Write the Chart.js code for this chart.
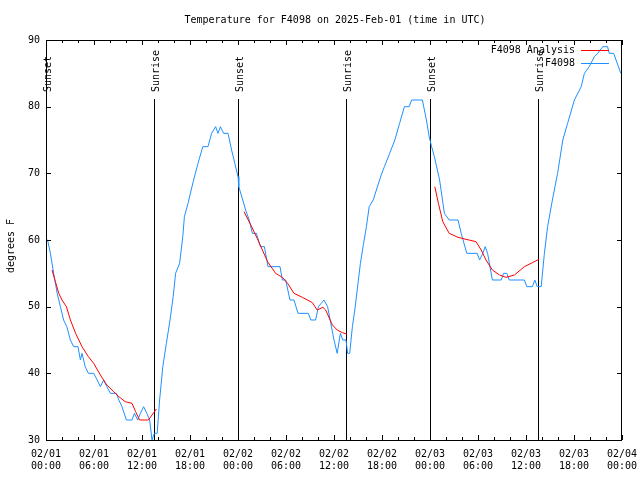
<!DOCTYPE html>
<html><head><meta charset="utf-8">
<script src="https://cdn.jsdelivr.net/npm/chart.js@4/dist/chart.umd.min.js"></script>
<style>html,body{margin:0;padding:0;background:#fff}canvas{display:block}</style>
</head><body>
<canvas id="c" width="640" height="480"></canvas>
<script>
const titleText = 'Temperature for F4098 on 2025-Feb-01 (time in UTC)';
const yAxisLabel = 'degrees F';
const seriesNames = ['F4098 Analysis', 'F4098'];
const tickDates = ['02/01','02/01','02/01','02/01','02/02','02/02','02/02','02/02','02/03','02/03','02/03','02/03','02/04'];
const tickTimes = ['00:00','06:00','12:00','18:00','00:00','06:00','12:00','18:00','00:00','06:00','12:00','18:00','00:00'];
const eventHours = [0, 13.5, 24, 37.5, 48, 61.5];
const eventLabels = ['Sunset','Sunrise','Sunset','Sunrise','Sunset','Sunrise'];

// hours since 02/01 00:00 UTC
const obsHours = [0.0,0.2,0.55,0.96,1.4,1.8,2.2,2.6,3.05,3.46,4.0,4.3,4.5,4.9,5.3,5.96,6.4,6.8,7.2,7.6,8.05,8.8,9.1,9.5,10.05,10.75,11.05,11.46,11.8,12.2,12.6,12.96,13.25,13.55,13.9,14.2,14.6,15.05,15.5,15.9,16.2,16.7,17.1,17.3,17.75,18.4,19.0,19.6,20.25,20.7,21.2,21.5,21.8,22.2,22.75,23.2,23.6,24.0,24.1,24.96,25.4,25.8,26.3,26.8,27.3,27.75,29.25,29.55,29.96,30.5,31.0,31.5,32.8,33.1,33.7,34.05,34.4,34.75,35.2,35.6,36.0,36.4,36.8,37.1,37.5,37.7,37.96,38.3,38.6,39.0,39.3,39.7,40.05,40.4,40.9,41.3,41.9,42.3,42.96,43.6,44.2,44.8,45.4,45.7,47.05,47.55,47.9,48.2,48.55,49.2,49.8,50.4,51.5,51.9,52.6,53.9,54.2,54.6,54.9,55.2,55.8,56.9,57.2,57.6,57.9,59.8,60.1,60.8,61.1,61.4,61.9,62.3,62.7,63.3,63.95,64.6,65.2,66.05,66.9,67.3,67.9,68.55,68.96,69.6,70.2,70.4,70.96,71.7,71.85];
const obsTemps = [60,60,58,55,52,50,48,47,45,44,44,42,43,41,40,40,39,38,39,38,37,37,36,35,33,33,34,33,34,35,34,33,30,31,31,36,41,44.5,48,51.5,55,56.5,60.5,63.5,65.5,68.75,71.5,74,74,76,77,76,77,76,76,73.5,71.5,69.5,68,64.5,63,61,61,59,59,56,56,54,54,51,51,49,49,48,48,50,50.5,51,50,47.5,45,43,46,45,45,43,43,47,49.5,53.5,56.5,59.5,62,65,66,67.5,69.75,71,73,75,77.5,80,80,81,81,78,75.5,74,72.5,69,64,63,63,61,58,58,57,58,59,58,54,54,55,55,54,54,53,53,54,53,53,58,62,66,70,75,77.5,81,83,85,86,87.5,88,89,89,88,88,85.5,85];

const anaHours = [0.75,1.17,1.6,2.0,2.55,3.05,3.7,4.5,5.3,5.96,6.8,7.6,8.46,9.1,9.9,10.75,11.2,11.7,12.8,13.25,13.8,
  19,
  24.75,25.6,26.4,27.05,27.7,28.7,29.55,30.2,31.0,32.05,33.3,33.9,34.6,34.96,35.8,36.4,37.05,37.6,
  43,
  48.6,49.05,49.6,50.4,51.5,52.5,53.75,54.4,55.0,55.8,56.7,57.5,58.55,59.8,60.8,61.6];
const anaTemps = [55.5,53.75,52,51,50,48,46,44,42.5,41.5,39.75,38.25,37.25,36.5,35.75,35.5,34.25,33,33,33.75,34.65,
  null,
  64.25,62.25,60.25,58.5,56.75,55,54.4,53.5,52,51.4,50.6,49.5,49.9,49.5,47.25,46.5,46.1,45.9,
  null,
  68,65.5,62.75,61,60.4,60.1,59.75,58.5,57,55.5,54.75,54.4,54.75,56,56.6,57.1];

const FONTFAM = '"DejaVu Sans Mono", "Liberation Mono", monospace';
const FONT = '10px ' + FONTFAM;
const RED = '#ff0000';
const BLUE = '#1e90ff';

const toPts = (xs, ys) => xs.map((h, i) => ({x: h, y: ys[i]}));

const deco = {
  id: 'deco',
  beforeDatasetsDraw(chart) {
    const {ctx, chartArea: a, scales: {x}} = chart;
    ctx.save();
    ctx.strokeStyle = '#000'; ctx.lineWidth = 1;
    ctx.font = FONT; ctx.fillStyle = '#000';
    eventHours.forEach((h, i) => {
      const px = Math.round(x.getPixelForValue(h)) + 0.5;
      ctx.beginPath(); ctx.moveTo(px, a.top + 59); ctx.lineTo(px, a.bottom); ctx.stroke();
      ctx.save();
      ctx.translate(px + 1.5, a.top + 52);
      ctx.rotate(-Math.PI / 2);
      ctx.textAlign = 'left'; ctx.textBaseline = 'middle';
      ctx.fillText(eventLabels[i], 0, 0);
      ctx.restore();
    });
    ctx.restore();
  },
  afterDatasetsDraw(chart) {
    const {ctx, chartArea: a, scales: {x, y}} = chart;
    ctx.save();
    ctx.strokeStyle = '#000'; ctx.lineWidth = 1;
    ctx.strokeRect(a.left + 0.5, a.top + 0.5, a.right - a.left - 1, a.bottom - a.top);
    ctx.beginPath();
    for (let h = 0; h <= 72; h += 2) {
      const px = Math.round(x.getPixelForValue(h)) + 0.5;
      const len = (h % 6 === 0) ? 5 : 3;
      ctx.moveTo(px, a.bottom); ctx.lineTo(px, a.bottom - len);
      ctx.moveTo(px, a.top); ctx.lineTo(px, a.top + len);
    }
    for (let v = 30; v <= 90; v += 10) {
      const py = Math.round(y.getPixelForValue(v)) + 0.5;
      ctx.moveTo(a.left, py); ctx.lineTo(a.left + 5, py);
      ctx.moveTo(a.right, py); ctx.lineTo(a.right - 5, py);
    }
    ctx.stroke();

    ctx.font = FONT; ctx.fillStyle = '#000';
    ctx.textAlign = 'center'; ctx.textBaseline = 'middle';
    ctx.fillText(titleText, 335, 20);

    ctx.save();
    ctx.translate(11, 246); ctx.rotate(-Math.PI / 2);
    ctx.fillText(yAxisLabel, 0, 0);
    ctx.restore();

    const colors = [RED, BLUE];
    const rows = [50, 63];
    seriesNames.forEach((n, i) => {
      ctx.textAlign = 'right';
      ctx.fillStyle = '#000';
      ctx.fillText(n, 575, rows[i]);
      ctx.strokeStyle = colors[i];
      ctx.beginPath();
      ctx.moveTo(581, rows[i] + 0.5); ctx.lineTo(609, rows[i] + 0.5);
      ctx.stroke();
    });
    ctx.restore();
  }
};

new Chart(document.getElementById('c'), {
  type: 'line',
  data: {
    datasets: [
      {label: seriesNames[0], data: toPts(anaHours, anaTemps), borderColor: RED, borderWidth: 1, pointRadius: 0, tension: 0, spanGaps: false, fill: false},
      {label: seriesNames[1], data: toPts(obsHours, obsTemps), borderColor: BLUE, borderWidth: 1, pointRadius: 0, tension: 0, fill: false}
    ]
  },
  options: {
    responsive: false,
    animation: false,
    devicePixelRatio: 1,
    layout: {padding: {top: 40, right: 18, left: 0, bottom: 0}},
    plugins: {legend: {display: false}, title: {display: false}, tooltip: {enabled: false}},
    scales: {
      x: {
        type: 'linear', min: 0, max: 72,
        grid: {display: false, drawTicks: false},
        border: {display: false},
        afterFit: s => { s.height = 40; s.paddingLeft = 0; s.paddingRight = 0; },
        ticks: {
          stepSize: 6, autoSkip: false, maxRotation: 0, padding: 8,
          font: {family: FONTFAM, size: 10}, color: '#000',
          callback: v => { const i = Math.round(v / 6); return [tickDates[i], tickTimes[i]]; }
        }
      },
      y: {
        min: 30, max: 90,
        grid: {display: false, drawTicks: false},
        border: {display: false},
        afterFit: s => { s.width = 46; s.paddingTop = 0; s.paddingBottom = 0; },
        ticks: {stepSize: 10, padding: 6, font: {family: FONTFAM, size: 10}, color: '#000'}
      }
    }
  },
  plugins: [deco]
});
</script>
</body></html>
